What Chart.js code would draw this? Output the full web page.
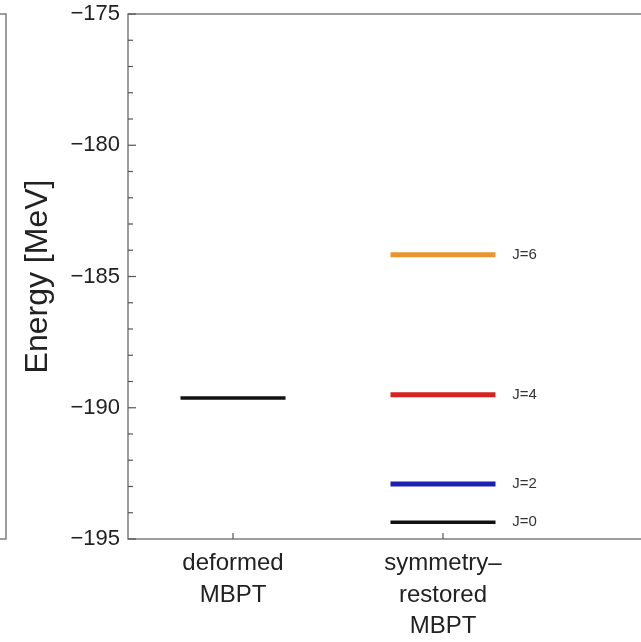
<!DOCTYPE html>
<html>
<head>
<meta charset="utf-8">
<script src="https://cdn.jsdelivr.net/npm/chart.js@4/dist/chart.umd.min.js"></script>
<style>
  html, body { margin: 0; padding: 0; background: #fff; overflow: hidden; }
  #wrap { width: 663px; height: 642px; }
</style>
</head>
<body>
<div id="wrap"><canvas id="myChart" width="663" height="642"></canvas></div>
<script>
// категории по оси x
const categories = [['deformed', 'MBPT'], ['symmetry\u2013', 'restored', 'MBPT']];
const categoryX = [1, 2];

// уровни энергии (MeV)
const levelNames = ['deformed', 'J=0', 'J=2', 'J=4', 'J=6'];
const levelCategory = [0, 1, 1, 1, 1];
const levelEnergy = [-189.63, -194.36, -192.90, -189.50, -184.17];
const levelLabels = ['', 'J=0', 'J=2', 'J=4', 'J=6'];
const levelColors = ['#111111', '#111111', '#1c1fb0', '#d42323', '#e8952f'];
const levelWidths = [3.5, 3.5, 5, 5, 5];

const yTicks = [-175, -180, -185, -190, -195];

const halfWidth = 0.25;
const labelOffset = 0.33;

const frameColor = '#7d7d7d';

// рамка, засечки и подписи J
const framePlugin = {
  id: 'frame',
  afterDraw(chart) {
    const ctx = chart.ctx;
    const a = chart.chartArea;
    const xs = chart.scales.x;
    const ys = chart.scales.y;
    ctx.save();
    ctx.strokeStyle = frameColor;
    ctx.lineWidth = 1.5;
    ctx.strokeRect(a.left, a.top, a.right - a.left, a.bottom - a.top);

    // кусок соседней панели слева
    const lx = a.left - 122;
    ctx.beginPath();
    ctx.moveTo(0, a.top);
    ctx.lineTo(lx, a.top);
    ctx.lineTo(lx, a.bottom);
    ctx.lineTo(0, a.bottom);
    ctx.stroke();

    // засечки по y (внутрь)
    ctx.lineWidth = 1.2;
    ctx.strokeStyle = '#555';
    for (let v = -195; v <= -175; v += 1) {
      const py = ys.getPixelForValue(v);
      const len = (v % 5 === 0) ? 8 : 5;
      ctx.beginPath();
      ctx.moveTo(a.left, py);
      ctx.lineTo(a.left + len, py);
      ctx.stroke();
    }
    // засечки по x
    categoryX.forEach(v => {
      const px = xs.getPixelForValue(v);
      ctx.beginPath();
      ctx.moveTo(px, a.bottom);
      ctx.lineTo(px, a.bottom - 6);
      ctx.stroke();
    });

    // подписи уровней
    ctx.fillStyle = '#333';
    ctx.font = '15px "Liberation Sans", Arial, sans-serif';
    ctx.textAlign = 'left';
    ctx.textBaseline = 'middle';
    levelLabels.forEach((t, i) => {
      if (!t) return;
      const px = xs.getPixelForValue(categoryX[levelCategory[i]] + labelOffset);
      const py = ys.getPixelForValue(levelEnergy[i]);
      ctx.fillText(t, px, py);
    });
    ctx.restore();
  }
};

const datasets = levelNames.map((name, i) => {
  const cx = categoryX[levelCategory[i]];
  return {
    label: name,
    data: [{ x: cx - halfWidth, y: levelEnergy[i] }, { x: cx + halfWidth, y: levelEnergy[i] }],
    borderColor: levelColors[i],
    borderWidth: levelWidths[i],
    borderCapStyle: 'butt',
    pointRadius: 0,
    fill: false
  };
});

new Chart(document.getElementById('myChart').getContext('2d'), {
  type: 'line',
  data: { datasets: datasets },
  options: {
    responsive: false,
    animation: false,
    layout: { padding: { top: 14, right: 10, left: 0, bottom: 0 } },
    plugins: { legend: { display: false }, tooltip: { enabled: false } },
    scales: {
      x: {
        type: 'linear',
        min: 0.5,
        max: 3,
        grid: { display: false, drawTicks: false },
        border: { display: false },
        afterBuildTicks: s => { s.ticks = categoryX.map(v => ({ value: v })); },
        afterFit: s => { s.height = 103; s.paddingLeft = 0; s.paddingRight = 0; },
        ticks: {
          autoSkip: false,
          maxRotation: 0,
          padding: 8,
          color: '#222',
          font: { family: '"Liberation Sans", Arial, sans-serif', size: 24, lineHeight: 1.33 },
          callback: v => {
            const i = categoryX.indexOf(v);
            return i >= 0 ? categories[i] : '';
          }
        }
      },
      y: {
        min: -195,
        max: -175,
        grid: { display: false, drawTicks: false },
        border: { display: false },
        afterBuildTicks: s => { s.ticks = yTicks.map(v => ({ value: v })); },
        afterFit: s => { s.width = 128; s.paddingTop = 0; s.paddingBottom = 0; },
        ticks: {
          padding: 8,
          color: '#222',
          font: { family: '"Liberation Sans", Arial, sans-serif', size: 22, lineHeight: 1 },
          callback: v => '\u2212' + Math.abs(v)
        },
        title: {
          display: true,
          text: 'Energy [MeV]',
          color: '#222',
          padding: { top: 19, bottom: 0 },
          font: { family: '"Liberation Sans", Arial, sans-serif', size: 32 }
        }
      }
    }
  },
  plugins: [framePlugin]
});
</script>
</body>
</html>
